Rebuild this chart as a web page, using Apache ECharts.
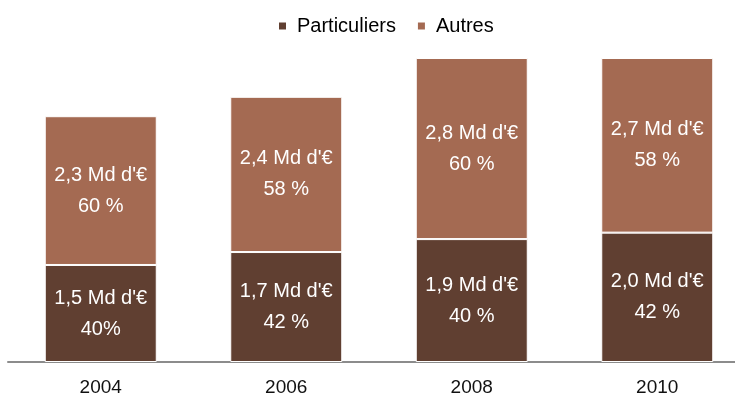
<!DOCTYPE html>
<html>
<head>
<meta charset="utf-8">
<script src="https://cdn.jsdelivr.net/npm/echarts@6/dist/echarts.min.js"></script>
<style>html,body{margin:0;padding:0;background:#fff}#c{width:735px;height:403px}</style>
</head>
<body>
<div id="c"></div>
<script>
const categories = ['2004', '2006', '2008', '2010'];
const particuliers = [1.5, 1.7, 1.9, 2.0];
const autres = [2.3, 2.4, 2.8, 2.7];
const pctParticuliers = ['40%', '42 %', '40 %', '42 %'];
const pctAutres = ['60 %', '58 %', '60 %', '58 %'];

const regular = '"Liberation Sans", Arial, sans-serif';

function fmt(v) { return v.toFixed(1).replace('.', ',') + " Md d'€"; }

const chart = echarts.init(document.getElementById('c'));
const labelStyle = {
  show: true,
  position: 'inside',
  color: '#ffffff',
  fontFamily: regular,
  fontSize: 20,
  lineHeight: 31
};
chart.setOption({
  animation: false,
  legend: {
    left: 272,
    top: 11,
    itemWidth: 9,
    itemHeight: 9,
    itemGap: 20,
    icon: 'rect',
    textStyle: { fontFamily: regular, fontSize: 20, color: '#000', padding: [0, 0, 0, 5] },
    data: ['Particuliers', 'Autres']
  },
  grid: { left: 8, right: -15, top: 58, bottom: 41, containLabel: false, outerBoundsMode: 'none' },
  xAxis: {
    type: 'category',
    data: categories,
    axisTick: { show: false },
    axisLine: { lineStyle: { color: '#8c8c8c', width: 2 } },
    axisLabel: { fontFamily: regular, fontSize: 19, color: '#111', margin: 16 }
  },
  yAxis: { type: 'value', min: 0, max: 4.7, show: false, splitLine: { show: false } },
  series: [
    {
      name: 'Particuliers', type: 'bar', stack: 't', barWidth: 112,
      data: particuliers,
      itemStyle: { color: '#603F31', borderColor: '#ffffff', borderWidth: 1 },
      label: Object.assign({}, labelStyle, {
        formatter: p => fmt(p.value) + '\n' + pctParticuliers[p.dataIndex]
      })
    },
    {
      name: 'Autres', type: 'bar', stack: 't', barWidth: 112,
      data: autres,
      itemStyle: { color: '#A46A52', borderColor: '#ffffff', borderWidth: 1 },
      label: Object.assign({}, labelStyle, {
        formatter: p => fmt(p.value) + '\n' + pctAutres[p.dataIndex]
      })
    }
  ]
});
</script>
</body>
</html>
